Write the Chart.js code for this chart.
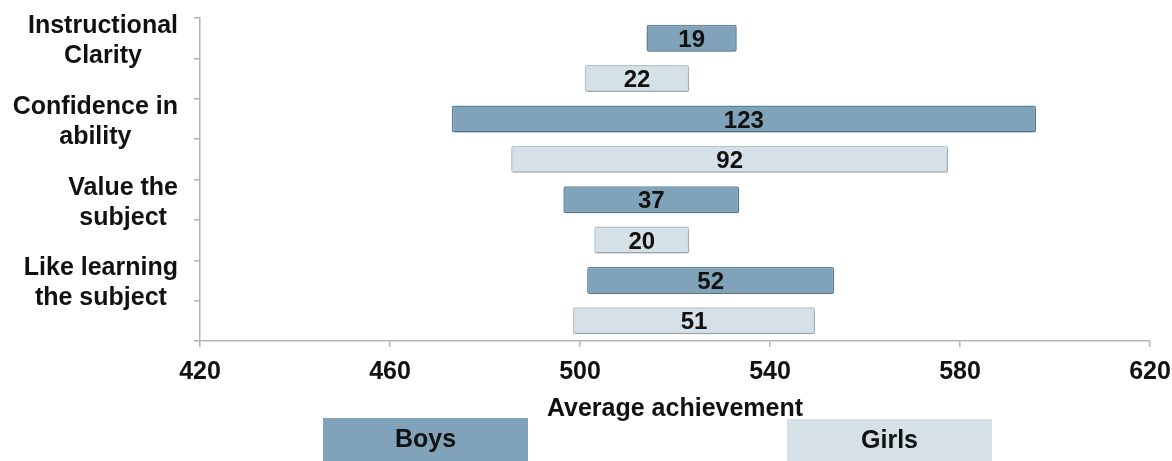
<!DOCTYPE html>
<html><head><meta charset="utf-8">
<script src="https://cdn.jsdelivr.net/npm/chart.js@4.4.1/dist/chart.umd.min.js"></script>
<style>html,body{margin:0;padding:0;background:#fff;} #wrap{position:relative;width:1172px;height:461px;}</style>
</head><body><div id="wrap"><canvas id="c" width="1172" height="461"></canvas></div>
<script>
const categories = [["Instructional","Clarity"],["Confidence in","ability"],["Value the","subject"],["Like learning","the subject"]];
const seriesNames = ["Boys","Girls"];
const boysLow  = [514, 473, 496.5, 501.5];
const boysHigh = [533, 596, 533.5, 553.5];
const girlsLow  = [501, 485.5, 503, 498.5];
const girlsHigh = [523, 577.5, 523, 549.5];
const xTicks = [420, 460, 500, 540, 580, 620];
const axisTitle = "Average achievement";

const FONT = '"Liberation Sans", Arial, Helvetica, sans-serif';
const boysFill = '#80a3ba', boysBorder = '#5f86a2';
const girlsFill = '#d5e0e7', girlsBorder = '#b6c4ce';
const axisColor = '#b3b3b3';

const rowLabels = [], boysData = [], girlsData = [];
categories.forEach((c, i) => {
  rowLabels.push(c, "");
  boysData.push([boysLow[i], boysHigh[i]], null);
  girlsData.push(null, [girlsLow[i], girlsHigh[i]]);
});

const shadowPlugin = {
  id: 'shadow',
  beforeDatasetsDraw(chart) {
    const ctx = chart.ctx; ctx.save();
    ctx.shadowColor = 'rgba(0,0,0,0.18)'; ctx.shadowBlur = 3; ctx.shadowOffsetX = 1; ctx.shadowOffsetY = 2;
  },
  afterDatasetsDraw(chart) { chart.ctx.restore(); }
};

const valueLabels = {
  id: 'valueLabels',
  afterDatasetsDraw(chart) {
    const ctx = chart.ctx;
    ctx.save();
    ctx.font = 'bold 24px ' + FONT;
    ctx.fillStyle = '#111';
    ctx.textAlign = 'center'; ctx.textBaseline = 'middle';
    chart.data.datasets.forEach((ds, di) => {
      chart.getDatasetMeta(di).data.forEach((el, i) => {
        const v = ds.data[i];
        if (!v) return;
        const diff = Math.round(v[1] - v[0]);
        ctx.fillText(String(diff), (el.x + el.base) / 2, el.y + 2);
      });
    });
    ctx.restore();
  }
};

const yLabels = {
  id: 'yLabels',
  afterDraw(chart) {
    const ctx = chart.ctx, y = chart.scales.y;
    ctx.save();
    ctx.font = 'bold 25px ' + FONT;
    ctx.fillStyle = '#111';
    ctx.textAlign = 'center'; ctx.textBaseline = 'middle';
    const rightEdge = y.right - 22;
    chart.data.labels.forEach((lab, i) => {
      if (!lab || !lab.length) return;
      const lines = Array.isArray(lab) ? lab : [lab];
      const w = Math.max(...lines.map(l => ctx.measureText(l).width));
      const cx = rightEdge - w / 2;
      const cy = y.getPixelForValue(i) + 3;
      const lh = 30;
      lines.forEach((l, k) => {
        ctx.fillText(l, cx, cy + (k - (lines.length - 1) / 2) * lh);
      });
    });
    ctx.restore();
  }
};

const legendBoxes = {
  id: 'legendBoxes',
  afterDraw(chart) {
    const ctx = chart.ctx;
    const boxes = [[323, 418, 205, 43], [787, 419, 205, 42]];
    ctx.save();
    chart.data.datasets.forEach((ds, i) => {
      const [bx, by, bw, bh] = boxes[i];
      ctx.fillStyle = ds.backgroundColor;
      ctx.fillRect(bx, by, bw, bh);
      ctx.font = 'bold 25px ' + FONT;
      ctx.fillStyle = '#111';
      ctx.textAlign = 'center'; ctx.textBaseline = 'middle';
      ctx.fillText(ds.label, bx + bw / 2, by + bh / 2 + 1);
    });
    ctx.restore();
  }
};

new Chart(document.getElementById('c'), {
  type: 'bar',
  data: {
    labels: rowLabels,
    datasets: [
      { label: seriesNames[0], data: boysData, backgroundColor: boysFill, borderColor: boysBorder, borderWidth: 1.5, borderRadius: 2, borderSkipped: false },
      { label: seriesNames[1], data: girlsData, backgroundColor: girlsFill, borderColor: girlsBorder, borderWidth: 1.5, borderRadius: 2, borderSkipped: false }
    ]
  },
  options: {
    indexAxis: 'y',
    responsive: false,
    animation: false,
    devicePixelRatio: 1,
    layout: { padding: { top: 18, right: 0, bottom: 39, left: 0 } },
    datasets: { bar: { grouped: false, barPercentage: 0.67, categoryPercentage: 1 } },
    plugins: { legend: { display: false }, tooltip: { enabled: false } },
    scales: {
      x: {
        type: 'linear', min: 420, max: 620,
        afterBuildTicks: s => { s.ticks = xTicks.map(v => ({ value: v })); },
        afterFit: s => { s.paddingRight = 22; },
        ticks: { font: { family: FONT, size: 25, weight: 'bold', lineHeight: 1.2 }, color: '#111', padding: 10, maxRotation: 0 },
        grid: { drawOnChartArea: false, tickLength: 6, color: axisColor, lineWidth: 1.5 },
        border: { color: axisColor, width: 1.5 },
        title: { display: true, text: axisTitle, color: '#111', font: { family: FONT, size: 25, weight: 'bold', lineHeight: 1 }, padding: 0 }
      },
      y: {
        type: 'category',
        ticks: { display: false },
        grid: { offset: true, drawOnChartArea: false, tickLength: 6, color: axisColor, lineWidth: 1.5 },
        border: { color: axisColor, width: 1.5 },
        afterFit: s => { s.width = 200; }
      }
    }
  },
  plugins: [shadowPlugin, valueLabels, yLabels, legendBoxes]
});
</script></body></html>
